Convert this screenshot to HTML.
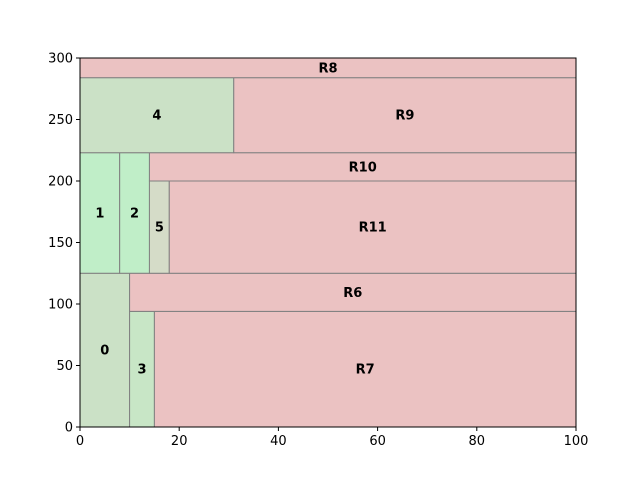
<!DOCTYPE html>
<html><head><meta charset="utf-8"><style>
body{margin:0;background:#fff;font-family:"Liberation Sans","DejaVu Sans",sans-serif}
svg text{font-family:"DejaVu Sans","Liberation Sans",sans-serif}
</style></head><body>
<svg id="chart" width="640" height="480" xmlns="http://www.w3.org/2000/svg"></svg>
<script>
const labels=["0","3","R7","R6","1","2","5","R11","R10","4","R9","R8"];
const xs=[0,10,15,10,0,8,14,18,14,0,31,0];
const ys=[0,0,0,94,125,125,125,125,200,223,223,284];
const ws=[10,5,85,90,8,6,4,82,86,31,69,100];
const hs=[125,94,94,31,98,98,75,75,23,61,61,16];
const colors=["#cbe1c6","#c8e6c6","#ebc2c2","#ebc2c2","#c0eec8","#c0eec8","#d5dcc8","#ebc2c2","#ebc2c2","#cbe1c6","#ebc2c2","#ebc2c2"];
const xTicks=[0,20,40,60,80,100];
const yTicks=[0,50,100,150,200,250,300];
const L=80,R=576,T=58,B=427;
const sx=v=>L+(v/100)*(R-L);
const sy=v=>B-(v/300)*(B-T);
const svg=document.getElementById('chart');
const NS="http://www.w3.org/2000/svg";
function mk(tag,attrs){const e=document.createElementNS(NS,tag);for(const k in attrs)e.setAttribute(k,attrs[k]);svg.appendChild(e);return e;}
for(let i=0;i<labels.length;i++){
  const r=mk('rect',{x:sx(xs[i]),y:sy(ys[i]+hs[i]),width:sx(xs[i]+ws[i])-sx(xs[i]),height:sy(ys[i])-sy(ys[i]+hs[i]),fill:colors[i],stroke:'#808080','stroke-width':1});
  
  
  const t=mk('text',{x:sx(xs[i]+ws[i]/2),y:sy(ys[i]+hs[i]/2)+4.5,'text-anchor':'middle','font-size':13,'font-weight':'bold',fill:'#000'});
  t.textContent=labels[i];
  
  
}
const frame=mk('rect',{x:L,y:T,width:R-L,height:B-T,fill:'none',stroke:'#000','stroke-width':1});


for(const v of xTicks){
  mk('line',{x1:sx(v),x2:sx(v),y1:B,y2:B+4,stroke:'#000'});
  const t=mk('text',{x:sx(v),y:B+18,'text-anchor':'middle','font-size':13,fill:'#000'});
  t.textContent=v;
  
  
}
for(const v of yTicks){
  mk('line',{x1:L-4,x2:L,y1:sy(v),y2:sy(v),stroke:'#000'});
  const t=mk('text',{x:L-7,y:sy(v)+4.5,'text-anchor':'end','font-size':13,fill:'#000'});
  t.textContent=v;
  
  
}
</script>
</body></html>
